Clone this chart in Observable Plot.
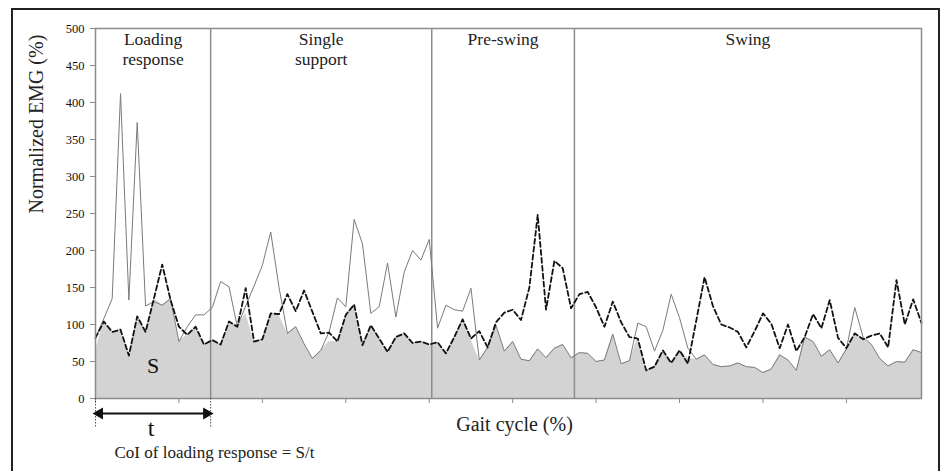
<!DOCTYPE html>
<html><head><meta charset="utf-8">
<script src="https://cdn.jsdelivr.net/npm/d3@7"></script>
<script src="https://cdn.jsdelivr.net/npm/@observablehq/plot@0.6"></script>
<style>
html,body{margin:0;padding:0;background:#fff;}
#wrap{position:relative;width:942px;height:471px;overflow:hidden;}
#frame{position:absolute;left:11px;top:8px;width:929px;height:490px;border:2px solid #222;box-sizing:border-box;pointer-events:none;}
</style></head><body><div id="wrap"><div id="frame"></div></div>
<script>
// Gait cycle sample index (0..99)
const fillValues = [
  65,104,90,93,57,111,90,135,126,135,
  77,86,97,73,79,73,104,97,115,77,
  80,115,113,88,97,74,54,65,77,77,
  113,127,72,99,81,63,83,88,75,77,
  73,76,61,83,107,80,52,69,99,64,
  77,53,51,67,55,68,73,55,62,61,
  50,52,87,47,51,82,38,44,65,48,
  66,54,53,59,46,43,44,48,43,42,
  35,40,59,52,38,83,77,57,66,48,
  67,89,81,73,54,44,50,49,66,62
];
const dashedValues = [
  82,104,90,93,58,111,90,135,181,133,
  97,86,97,73,79,73,104,97,149,77,
  80,115,114,141,118,146,117,88,89,77,
  113,127,72,99,81,63,83,88,75,77,
  73,76,61,83,107,81,91,69,103,116,
  120,106,150,248,120,186,176,122,141,144,
  123,97,131,103,83,81,38,43,65,48,
  65,47,105,164,125,100,96,90,69,91,
  115,101,68,100,64,83,114,95,133,82,
  68,88,80,85,88,69,160,100,134,102
];
const solidValues = [
  82,108,135,412,133,373,125,131,126,135,
  77,97,113,113,123,158,151,97,125,152,
  180,225,150,88,97,74,54,65,90,136,
  124,242,209,115,124,183,110,171,200,187,
  215,95,126,120,118,149,52,69,99,64,
  77,53,51,67,55,68,73,55,62,61,
  50,52,87,47,51,102,97,64,92,141,
  109,68,53,59,46,43,44,48,43,42,
  35,40,59,52,38,83,77,57,66,48,
  67,123,83,73,54,44,50,49,66,62
];
const phaseBounds = [0, 13.8, 40.3, 57.4, 99];
const phaseLine1 = ["Loading", "Single", "Pre-swing", "Swing"];
const phaseLine2 = ["response", "support", "", ""];
const yTicks = [0,50,100,150,200,250,300,350,400,450,500];
const xTicks = [0,10,20,30,40,50,60,70,80,90];

const data = fillValues.map((v, i) => ({x: i, area: v, dashed: dashedValues[i], solid: solidValues[i]}));
const phases = phaseLine1.map((name, i) => ({name, name2: phaseLine2[i], mid: (phaseBounds[i] + phaseBounds[i+1]) / 2}));
const tSpan = [phaseBounds[0], phaseBounds[1]];
const tMid = (tSpan[0] + tSpan[1]) / 2;

const chart = Plot.plot({
  width: 942, height: 471,
  marginLeft: 95, marginRight: 21, marginTop: 28, marginBottom: 73,
  style: {fontFamily: "'Liberation Serif', 'Times New Roman', serif", background: "transparent", color: "#222"},
  x: {domain: [0, 99], axis: null},
  y: {domain: [0, 500], axis: null},
  marks: [
    Plot.areaY(data, {x: "x", y: "area", fill: "#d3d3d3"}),
    Plot.ruleX(phaseBounds.slice(1, 4), {stroke: "#8c8c8c", strokeWidth: 1.5}),
    Plot.line(data, {x: "x", y: "solid", stroke: "#7a7a7a", strokeWidth: 1}),
    Plot.line(data, {x: "x", y: "dashed", stroke: "#111", strokeWidth: 1.8, strokeDasharray: "5,3"}),
    Plot.frame({stroke: "#8c8c8c", strokeWidth: 1.5}),
    Plot.axisY(yTicks, {tickSize: 5, stroke: "#8c8c8c", tickFormat: () => "", label: null}),
    Plot.text(yTicks, {y: d => d, text: d => String(d), frameAnchor: "left", textAnchor: "end", dx: -11, fontSize: 12.5, fill: "#111"}),
    Plot.axisX(xTicks, {tickSize: 5, stroke: "#8c8c8c", tickFormat: () => "", label: null}),
    Plot.axisX(tSpan, {tickSize: 30, stroke: "#555", strokeDasharray: "1.5,1.5", tickFormat: () => "", label: null}),
    Plot.text(phases, {x: "mid", text: "name", frameAnchor: "top", lineAnchor: "top", dy: 4, fontSize: 17.5, fill: "#222"}),
    Plot.text(phases, {x: "mid", text: "name2", frameAnchor: "top", lineAnchor: "top", dy: 24, fontSize: 17.5, fill: "#222"}),
    Plot.text(["Normalized EMG (%)"], {frameAnchor: "left", dx: -59, rotate: -90, fontSize: 20, fill: "#222"}),
    Plot.text(["Gait cycle (%)"], {frameAnchor: "bottom", dx: 6, dy: 32.5, fontSize: 20, fill: "#222"}),
    Plot.ruleY([0], {x1: tSpan[0], x2: tSpan[1], dy: 15, stroke: "#111", strokeWidth: 2}),
    Plot.dot([tSpan[0]], {x: d => d, frameAnchor: "bottom", dy: 15, dx: 4, symbol: "triangle", rotate: -90, r: 4.5, fill: "#111", stroke: "none"}),
    Plot.dot([tSpan[1]], {x: d => d, frameAnchor: "bottom", dy: 15, dx: -4, symbol: "triangle", rotate: 90, r: 4.5, fill: "#111", stroke: "none"}),
    Plot.text(["t"], {x: () => tMid, frameAnchor: "bottom", dx: -2, dy: 37, fontSize: 24, fill: "#111"}),
    Plot.text(["S"], {x: () => tMid, frameAnchor: "bottom", dy: -26, fontSize: 22, fill: "#111"}),
    Plot.text(["CoI of loading response = S/t"], {frameAnchor: "bottom-left", textAnchor: "start", dx: 19, dy: 59.5, fontSize: 17, fill: "#222"})
  ]
});
document.getElementById("wrap").prepend(chart);
</script>
</body></html>
